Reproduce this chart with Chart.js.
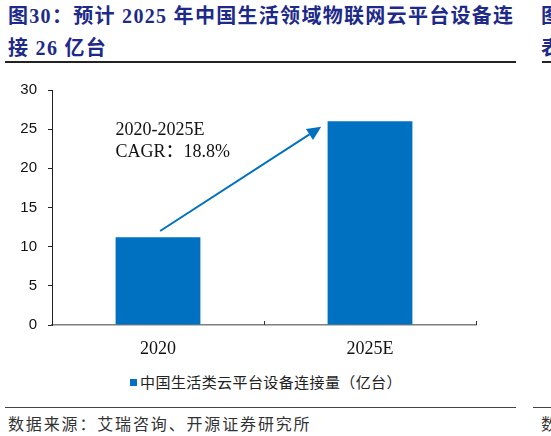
<!DOCTYPE html>
<html>
<head>
<meta charset="utf-8">
<script src="https://cdn.jsdelivr.net/npm/chart.js@4.4.1/dist/chart.umd.min.js"></script>
<style>
  html, body { margin:0; padding:0; background:#fff; width:551px; height:436px; overflow:hidden; position:relative; }
  .title { position:absolute; left:8px; font-family:"Liberation Serif","Noto Sans CJK SC",serif; font-weight:bold; font-size:20px; color:#1d2a88; white-space:pre; letter-spacing:1.3px; line-height:20px; }
  .rule { position:absolute; height:0; border-top:2px solid #222; }
  .source { position:absolute; left:8px; top:414px; font-family:"Noto Sans CJK SC",sans-serif; font-size:16px; color:#333; letter-spacing:1.85px; line-height:18px; white-space:pre; }
  #legend { position:absolute; left:52px; width:428px; top:373px; text-align:center; font-family:"Noto Sans CJK SC",sans-serif; font-size:15px; color:#222; line-height:18px; white-space:pre; letter-spacing:0.4px; }
  #legend .sw { display:inline-block; width:7px; height:7px; background:#0070C0; margin-right:3px; vertical-align:middle; position:relative; top:-1px; }
  #wrap { position:absolute; left:0; top:70px; width:551px; height:290px; }
  .frag { position:absolute; left:541px; overflow:hidden; width:10px; white-space:pre; }
</style>
</head>
<body>
<div class="title" style="top:6px;">图30：预计 2025 年中国生活领域物联网云平台设备连</div>
<div class="title" style="top:38px;">接 26 亿台</div>
<div class="rule" style="left:5px; width:511px; top:61px;"></div>
<div class="rule" style="left:542px; width:9px; top:61px;"></div>
<div class="frag title" style="top:6px; left:541px;">图</div>
<div class="frag title" style="top:38px; left:541px;">表</div>
<div class="rule" style="left:5px; width:511px; top:407px; border-top-width:1.5px; border-color:#444;"></div>
<div class="rule" style="left:533px; width:18px; top:407px; border-top-width:1.5px; border-color:#444;"></div>
<div class="source">数据来源：艾瑞咨询、开源证券研究所</div>
<div class="source frag" style="left:541px;">数</div>
<div id="wrap"><canvas id="c"></canvas></div>
<div id="legend"></div>
<script>
const categories = ['2020', '2025E'];
const values = [11.2, 26];
const seriesName = '中国生活类云平台设备连接量（亿台）';
const yMin = 0, yMax = 30, yStep = 5;
const annotationLines = ['2020-2025E', 'CAGR：18.8%'];
const annotationAnchor = [-0.2, 24.8, 22.0];     // x (category units), y line1, y line2
const arrowFrom = [0.01, 12.0];
const arrowTo = [0.77, 25.3];
const barColor = '#0070C0';

document.getElementById('legend').innerHTML = '<span class="sw"></span>' + seriesName;

const extras = {
  id: 'extras',
  afterDraw(chart) {
    const ctx = chart.ctx, x = chart.scales.x, y = chart.scales.y;
    const bottom = chart.chartArea.bottom;
    ctx.save();
    ctx.strokeStyle = '#333'; ctx.lineWidth = 1;
    for (let i = 0; i < categories.length; i++) {
      const px = Math.round(x.getPixelForValue(i + 0.5)) + 0.5;
      ctx.beginPath(); ctx.moveTo(px, bottom); ctx.lineTo(px, bottom - 4); ctx.stroke();
    }
    const x1 = x.getPixelForValue(arrowFrom[0]), y1 = y.getPixelForValue(arrowFrom[1]);
    const x2 = x.getPixelForValue(arrowTo[0]), y2 = y.getPixelForValue(arrowTo[1]);
    const ang = Math.atan2(y2 - y1, x2 - x1);
    const hl = 14, hw = 6.5;
    const bx = x2 - hl * Math.cos(ang), by = y2 - hl * Math.sin(ang);
    ctx.strokeStyle = barColor; ctx.fillStyle = barColor; ctx.lineWidth = 2;
    ctx.beginPath(); ctx.moveTo(x1, y1); ctx.lineTo(bx, by); ctx.stroke();
    ctx.beginPath();
    ctx.moveTo(x2, y2);
    ctx.lineTo(bx + hw * Math.sin(ang), by - hw * Math.cos(ang));
    ctx.lineTo(bx - hw * Math.sin(ang), by + hw * Math.cos(ang));
    ctx.closePath(); ctx.fill();
    ctx.fillStyle = '#111';
    ctx.font = '18px "Liberation Serif", "Noto Sans CJK SC", serif';
    ctx.textAlign = 'left'; ctx.textBaseline = 'middle';
    const ax = x.getPixelForValue(annotationAnchor[0]);
    ctx.fillText(annotationLines[0], ax, y.getPixelForValue(annotationAnchor[1]));
    ctx.fillText(annotationLines[1], ax, y.getPixelForValue(annotationAnchor[2]));
    ctx.restore();
  }
};

new Chart(document.getElementById('c'), {
  type: 'bar',
  data: {
    labels: categories,
    datasets: [{ label: seriesName, data: values, backgroundColor: barColor, borderWidth: 0,
                 barPercentage: 0.4, categoryPercentage: 1.0 }]
  },
  options: {
    responsive: true, maintainAspectRatio: false, animation: false,
    layout: { padding: { top: 20, right: 75, bottom: 0, left: 0 } },
    plugins: { legend: { display: false }, tooltip: { enabled: false } },
    scales: {
      x: {
        offset: true,
        grid: { display: false, drawTicks: false },
        border: { display: true, color: '#7f7f7f', width: 1.5 },
        ticks: { color: '#111', padding: 13, font: { family: '"Liberation Serif", serif', size: 18 } },
        afterFit(s) { s.height = 35; }
      },
      y: {
        min: yMin, max: yMax,
        grid: { drawOnChartArea: false, drawTicks: true, tickLength: 4, color: '#222' },
        border: { display: true, color: '#222', width: 1 },
        ticks: { stepSize: yStep, color: '#111', padding: 11, font: { family: '"Liberation Sans", Arial, sans-serif', size: 15 } },
        afterFit(s) { s.width = 52; }
      }
    }
  },
  plugins: [extras]
});
</script>
</body>
</html>
